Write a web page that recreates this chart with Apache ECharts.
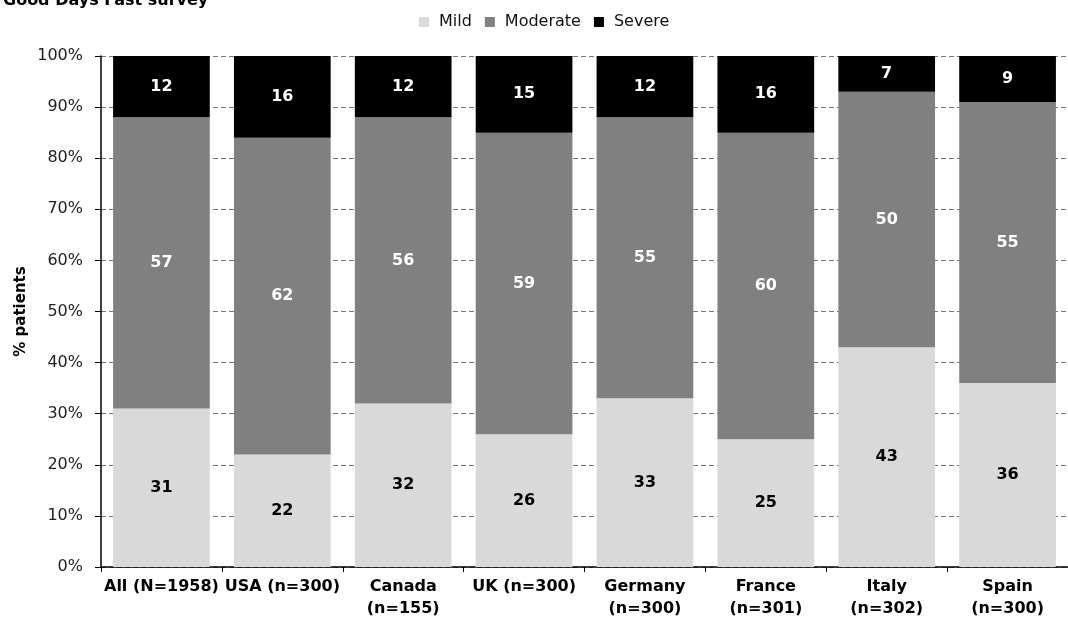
<!DOCTYPE html>
<html>
<head>
<meta charset="utf-8">
<script src="https://cdn.jsdelivr.net/npm/echarts@6/dist/echarts.min.js"></script>
<style>
  html, body { margin: 0; padding: 0; background: #fff; }
  #chart { width: 1068px; height: 626px; }
</style>
</head>
<body>
<div id="chart"></div>
<script>
// Severity split of patients by country (percent)
const categories = ['All (N=1958)', 'USA (n=300)', 'Canada\n(n=155)', 'UK (n=300)', 'Germany\n(n=300)', 'France\n(n=301)', 'Italy\n(n=302)', 'Spain\n(n=300)'];
const mild = [31, 22, 32, 26, 33, 25, 43, 36];
const moderate = [57, 62, 56, 59, 55, 60, 50, 55];
const severe = [12, 16, 12, 15, 12, 16, 7, 9];

const FONT = '"DejaVu Sans", Verdana, sans-serif';

function barSeries(name, data, color, labelColor) {
  return {
    name: name,
    type: 'bar',
    stack: 'total',
    data: data,
    barCategoryGap: '20%',
    itemStyle: { color: color },
    label: {
      show: true,
      position: 'inside',
      color: labelColor,
      fontFamily: FONT,
      fontWeight: 'bold',
      fontSize: 16
    }
  };
}

const chart = echarts.init(document.getElementById('chart'), null, { renderer: 'canvas' });
chart.setOption({
  animation: false,
  title: {
    text: 'Good Days Fast survey',
    left: -2,
    top: -12,
    textStyle: { fontFamily: FONT, fontWeight: 'bold', fontSize: 16, color: '#000' }
  },
  legend: {
    top: 9,
    left: 414,
    itemWidth: 10,
    itemHeight: 10,
    itemGap: 13,
    icon: 'rect',
    textStyle: { fontFamily: FONT, fontSize: 16, color: '#111', padding: [0, 0, 0, 5] },
    data: ['Mild', 'Moderate', 'Severe']
  },
  grid: { left: 101, right: -7, top: 56, bottom: 59 },
  xAxis: {
    type: 'category',
    data: categories,
    axisLine: { lineStyle: { color: '#000', width: 1.5 } },
    axisTick: { show: true, length: 5, lineStyle: { color: '#000' } },
    axisLabel: {
      interval: 0,
      color: '#000',
      fontFamily: FONT,
      fontWeight: 'bold',
      fontSize: 16,
      lineHeight: 22,
      margin: 9
    }
  },
  yAxis: {
    type: 'value',
    min: 0,
    max: 100,
    interval: 10,
    name: '% patients',
    nameLocation: 'middle',
    nameGap: 72,
    nameMoveOverlap: false,
    nameTextStyle: { fontFamily: FONT, fontWeight: 'bold', fontSize: 15, color: '#000' },
    axisLine: { show: true, lineStyle: { color: '#000', width: 1.5 } },
    axisTick: { show: true, length: 6, lineStyle: { color: '#000' } },
    axisLabel: {
      formatter: '{value}%',
      color: '#222',
      fontFamily: FONT,
      fontSize: 16,
      margin: 18
    },
    splitLine: { show: true, lineStyle: { color: '#777', type: [5, 3], width: 1 } }
  },
  series: [
    barSeries('Mild', mild, '#d9d9d9', '#000'),
    barSeries('Moderate', moderate, '#808080', '#fff'),
    barSeries('Severe', severe, '#000000', '#fff')
  ]
});
</script>
</body>
</html>
